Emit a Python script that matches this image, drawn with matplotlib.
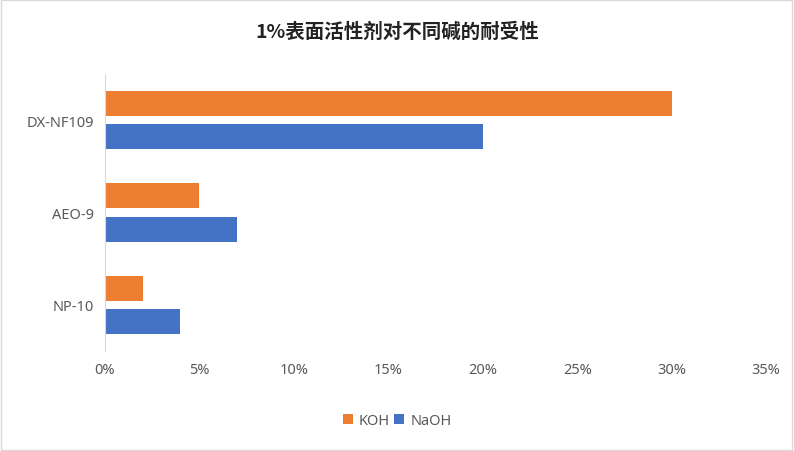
import matplotlib
matplotlib.use("Agg")
import matplotlib.pyplot as plt
from matplotlib import font_manager
from matplotlib.ticker import PercentFormatter

categories = ["DX-NF109", "AEO-9", "NP-10"]
koh = [30, 5, 2]
naoh = [20, 7, 4]
xticks = [0, 5, 10, 15, 20, 25, 30, 35]

names = {f.name for f in font_manager.fontManager.ttflist}
cjk = [n for n in ["Noto Sans CJK SC", "Noto Sans CJK JP", "Noto Sans CJK TC", "Noto Sans CJK KR"] if n in names]
if not cjk:
    cjk = [f.name for f in font_manager.fontManager.ttflist if "CJK" in f.name][:1]
plt.rcParams["font.family"] = ["Noto Sans"] + cjk + ["DejaVu Sans"]

fig = plt.figure(figsize=(7.94, 4.52), dpi=100)
ax = fig.add_axes([0.132, 0.221, 0.833, 0.613])
ys = [2, 1, 0]
h = 0.27
off = 0.18
ax.barh([y + off for y in ys], koh, height=h, color="#ED7D31", label="KOH")
ax.barh([y - off for y in ys], naoh, height=h, color="#4472C4", label="NaOH")
ax.set_ylim(-0.5, 2.5)
ax.set_xlim(0, 35)
ax.set_xticks(xticks)
ax.xaxis.set_major_formatter(PercentFormatter(decimals=0))
ax.set_yticks(ys)
ax.set_yticklabels(categories)
for s in ["top", "right", "bottom"]:
    ax.spines[s].set_visible(False)
ax.spines["left"].set_color("#D9D9D9")
ax.tick_params(length=0, labelsize=10.5, colors="#595959", pad=8)
fig.suptitle("1%表面活性剂对不同碱的耐受性", y=0.95, fontsize=14, fontweight="bold",
             color="#222222", fontfamily=cjk + ["DejaVu Sans"])
fig.legend(loc="center", bbox_to_anchor=(0.5, 0.068), ncol=2, frameon=False,
           fontsize=10.5, handlelength=0.7, handleheight=0.7, columnspacing=0.3,
           handletextpad=0.4, labelcolor="#595959")
fig.patches.append(plt.Rectangle((0.001, 0.002), 0.997, 0.995, transform=fig.transFigure,
                                 fill=False, edgecolor="#D9D9D9", linewidth=1))
fig.savefig("out.png", dpi=100)
